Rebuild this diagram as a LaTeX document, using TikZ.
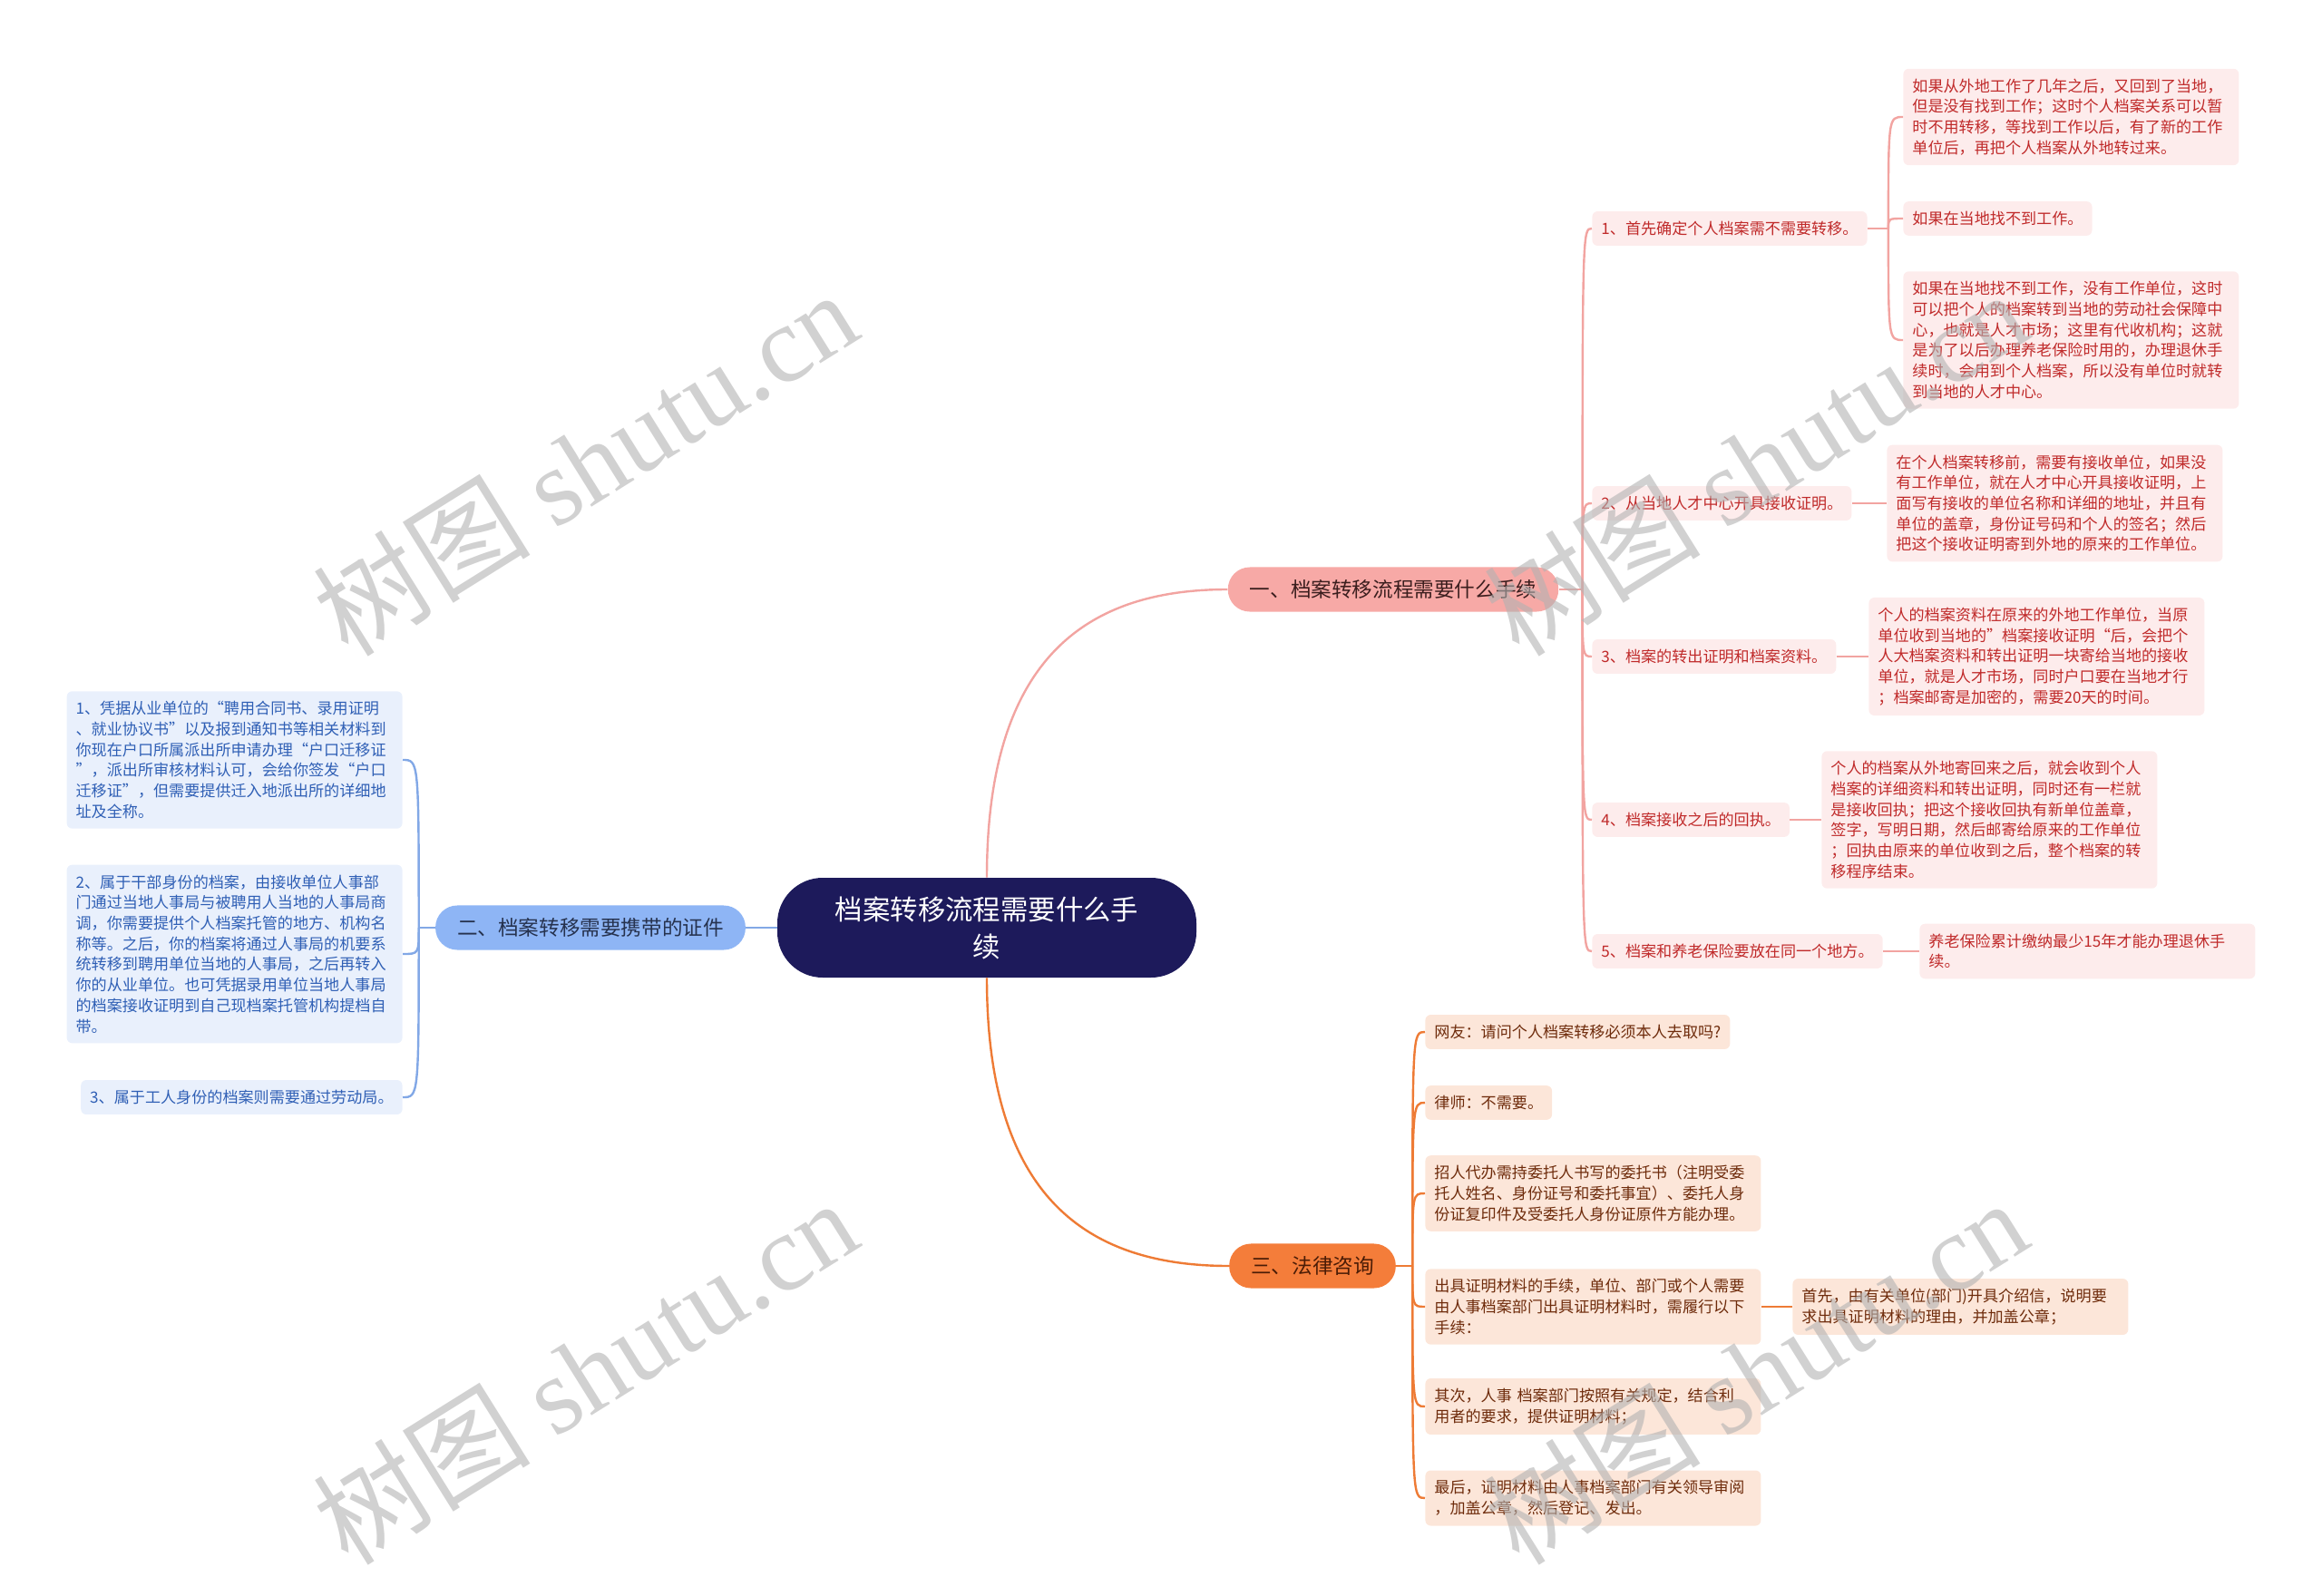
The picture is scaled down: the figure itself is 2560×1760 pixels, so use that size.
\documentclass[tikz,border=0pt]{standalone}
\usepackage{fontspec}
\setmainfont{Noto Sans CJK SC}
\newfontfamily\wmlatin{Liberation Serif}
\usepackage{xcolor}
\usepackage{tikz}
\usetikzlibrary{calc,positioning}

\definecolor{rootfill}{HTML}{1D1A5B}
\definecolor{pinkmain}{HTML}{F7A9A6}
\definecolor{pinkedge}{HTML}{F2A4A1}
\definecolor{pinkleaf}{HTML}{FDECEC}
\definecolor{pinktext}{HTML}{C02A2A}
\definecolor{pinkdark}{HTML}{3B1E1E}
\definecolor{bluemain}{HTML}{8EB5F5}
\definecolor{blueedge}{HTML}{82A8E6}
\definecolor{blueleaf}{HTML}{E9F0FC}
\definecolor{bluetext}{HTML}{2F5FB5}
\definecolor{bluedark}{HTML}{26324E}
\definecolor{orangemain}{HTML}{F47D3A}
\definecolor{orangeedge}{HTML}{EE7B35}
\definecolor{orangeleaf}{HTML}{FCE6D9}
\definecolor{orangetext}{HTML}{6E2B0B}
\definecolor{orangedark}{HTML}{4A1C06}

\begin{document}
\begin{tikzpicture}[x=0.5pt, y=-0.5pt,
  rootnode/.style={fill=rootfill, text=white, align=center, minimum width=231pt, minimum height=55pt, rounded corners=25pt, font=\fontsize{15.2pt}{20.4pt}\selectfont},
  branch/.style={rounded corners=12pt, inner xsep=12pt, inner ysep=7pt, font=\fontsize{11.3pt}{14pt}\selectfont},
  leaf/.style={rounded corners=3pt, inner xsep=5pt, inner ysep=5.5pt, align=left, font=\fontsize{8.55pt}{11.35pt}\selectfont},
  wide/.style={text width=175pt},
  pinkbox/.style={leaf, fill=pinkleaf, text=pinktext},
  bluebox/.style={leaf, fill=blueleaf, text=bluetext},
  orangebox/.style={leaf, fill=orangeleaf, text=orangetext},
  pinkline/.style={draw=pinkedge, line width=1.2pt},
  blueline/.style={draw=blueedge, line width=1.2pt},
  orangeline/.style={draw=orangeedge, line width=1.2pt},
  wmark/.style={text=black!30, opacity=0.6, rotate=32, font=\fontsize{60pt}{60pt}\selectfont}
]
\useasboundingbox (0,0) rectangle (2560,1760);

% centre and main branches
\node[rootnode] (root) at (1088,1023) {档案转移流程需要什么手\\续};
\node[branch, fill=pinkmain, text=pinkdark] (b1) at (1536,650) {一、档案转移流程需要什么手续};
\node[branch, fill=bluemain, text=bluedark] (b2) at (651,1023) {二、档案转移需要携带的证件};
\node[branch, fill=orangemain, text=orangedark] (b3) at (1447,1396) {三、法律咨询};

% branch one: steps
\node[pinkbox, anchor=west] (c1) at (1755,252) {1、首先确定个人档案需不需要转移。};
\node[pinkbox, anchor=west] (c2) at (1755,555) {2、从当地人才中心开具接收证明。};
\node[pinkbox, anchor=west] (c3) at (1755,724) {3、档案的转出证明和档案资料。};
\node[pinkbox, anchor=west] (c4) at (1755,904) {4、档案接收之后的回执。};
\node[pinkbox, anchor=west] (c5) at (1755,1049) {5、档案和养老保险要放在同一个地方。};

\node[pinkbox, wide, anchor=west] (l1a) at (2098,129) {如果从外地工作了几年之后，又回到了当地，\\但是没有找到工作；这时个人档案关系可以暂\\时不用转移，等找到工作以后，有了新的工作\\单位后，再把个人档案从外地转过来。};
\node[pinkbox, anchor=west] (l1b) at (2098,241) {如果在当地找不到工作。};
\node[pinkbox, wide, anchor=west] (l1c) at (2098,375) {如果在当地找不到工作，没有工作单位，这时\\可以把个人的档案转到当地的劳动社会保障中\\心，也就是人才市场；这里有代收机构；这就\\是为了以后办理养老保险时用的，办理退休手\\续时，会用到个人档案，所以没有单位时就转\\到当地的人才中心。};
\node[pinkbox, wide, anchor=west] (l2) at (2080,555) {在个人档案转移前，需要有接收单位，如果没\\有工作单位，就在人才中心开具接收证明，上\\面写有接收的单位名称和详细的地址，并且有\\单位的盖章，身份证号码和个人的签名；然后\\把这个接收证明寄到外地的原来的工作单位。};
\node[pinkbox, wide, anchor=west] (l3) at (2060,724) {个人的档案资料在原来的外地工作单位，当原\\单位收到当地的”档案接收证明“后，会把个\\人大档案资料和转出证明一块寄给当地的接收\\单位，就是人才市场，同时户口要在当地才行\\；档案邮寄是加密的，需要20天的时间。};
\node[pinkbox, wide, anchor=west] (l4) at (2008,904) {个人的档案从外地寄回来之后，就会收到个人\\档案的详细资料和转出证明，同时还有一栏就\\是接收回执；把这个接收回执有新单位盖章，\\签字，写明日期，然后邮寄给原来的工作单位\\；回执由原来的单位收到之后，整个档案的转\\移程序结束。};
\node[pinkbox, wide, anchor=west] (l5) at (2116,1049) {养老保险累计缴纳最少15年才能办理退休手\\续。};

% branch two: papers
\node[bluebox, wide, anchor=east] (d1) at (444,838) {1、凭据从业单位的“聘用合同书、录用证明\\、就业协议书”以及报到通知书等相关材料到\\你现在户口所属派出所申请办理“户口迁移证\\”，派出所审核材料认可，会给你签发“户口\\迁移证”，但需要提供迁入地派出所的详细地\\址及全称。};
\node[bluebox, wide, anchor=east] (d2) at (444,1052) {2、属于干部身份的档案，由接收单位人事部\\门通过当地人事局与被聘用人当地的人事局商\\调，你需要提供个人档案托管的地方、机构名\\称等。之后，你的档案将通过人事局的机要系\\统转移到聘用单位当地的人事局，之后再转入\\你的从业单位。也可凭据录用单位当地人事局\\的档案接收证明到自己现档案托管机构提档自\\带。};
\node[bluebox, anchor=east] (d3) at (444,1210) {3、属于工人身份的档案则需要通过劳动局。};

% branch three: legal advice
\node[orangebox, anchor=west] (q1) at (1571,1138) {网友：请问个人档案转移必须本人去取吗?};
\node[orangebox, anchor=west] (q2) at (1571,1216) {律师：不需要。};
\node[orangebox, wide, anchor=west] (q3) at (1571,1316) {招人代办需持委托人书写的委托书（注明受委\\托人姓名、身份证号和委托事宜）、委托人身\\份证复印件及受委托人身份证原件方能办理。};
\node[orangebox, wide, anchor=west] (q4) at (1571,1441) {出具证明材料的手续，单位、部门或个人需要\\由人事档案部门出具证明材料时，需履行以下\\手续：};
\node[orangebox, wide, anchor=west] (q4a) at (1976,1441) {首先，由有关单位(部门)开具介绍信，说明要\\求出具证明材料的理由，并加盖公章；};
\node[orangebox, wide, anchor=west] (q5) at (1571,1551) {其次，人事 档案部门按照有关规定，结合利\\用者的要求，提供证明材料；};
\node[orangebox, wide, anchor=west] (q6) at (1571,1652) {最后，证明材料由人事档案部门有关领导审阅\\，加盖公章，然后登记、发出。};

% connectors from the centre
\draw[pinkline] (root.north) .. controls ($(root.north)!0.75!(root.north |- b1.west)$) and ($(b1.west)!0.6!(root.north |- b1.west)$) .. (b1.west);
\draw[orangeline] (root.south) .. controls ($(root.south)!0.75!(root.south |- b3.west)$) and ($(b3.west)!0.6!(root.south |- b3.west)$) .. (b3.west);
\draw[blueline] (root.west) -- (b2.east);

% spines
\draw[pinkline] (b1.east) -- ++(26,0) coordinate (s1);
\foreach \n in {c1,c2,c3,c4,c5}
  \draw[pinkline] (s1) .. controls (s1 |- \n.west) .. (\n.west);
\draw[pinkline] (c1.east) -- ++(23,0) coordinate (s2);
\foreach \n in {l1a,l1b,l1c}
  \draw[pinkline] (s2) .. controls (s2 |- \n.west) .. (\n.west);
\draw[pinkline] (c2.east) -- (l2.west);
\draw[pinkline] (c3.east) -- (l3.west);
\draw[pinkline] (c4.east) -- (l4.west);
\draw[pinkline] (c5.east) -- (l5.west);

\draw[blueline] (b2.west) -- ++(-18,0) coordinate (s3);
\foreach \n in {d1,d2,d3}
  \draw[blueline] (s3) .. controls (s3 |- \n.east) .. (\n.east);

\draw[orangeline] (b3.east) -- ++(18,0) coordinate (s4);
\foreach \n in {q1,q2,q3,q4,q5,q6}
  \draw[orangeline] (s4) .. controls (s4 |- \n.west) .. (\n.west);
\draw[orangeline] (q4.east) -- (q4a.west);

% watermarks
\node[wmark] (w1) at (645,510) {树图 {\wmlatin shutu.cn}};
\node[wmark] (w2) at (645,1512) {树图 {\wmlatin shutu.cn}};
\node[wmark] (w3) at (1935,510) {树图 {\wmlatin shutu.cn}};
\node[wmark] (w4) at (1935,1512) {树图 {\wmlatin shutu.cn}};
\end{tikzpicture}
\end{document}
